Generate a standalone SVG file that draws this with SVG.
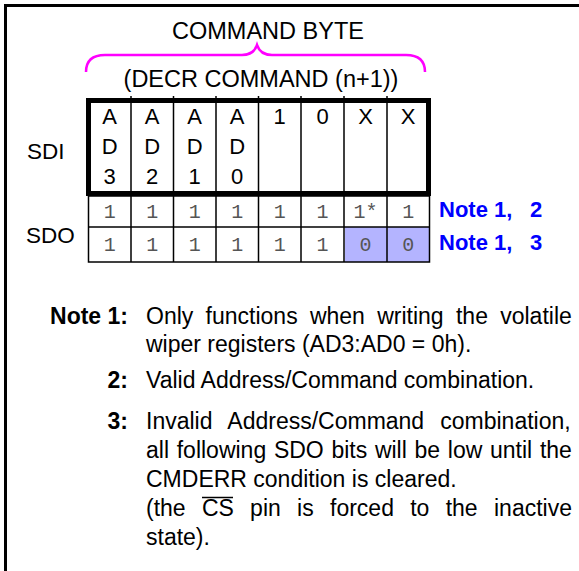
<svg xmlns="http://www.w3.org/2000/svg" width="579" height="571" viewBox="0 0 579 571">
<style>
text{font-family:"Liberation Sans",Arial,sans-serif;fill:#000}
.big{font-size:23.5px}
.lab{font-size:22.5px}
.cell{font-size:22px;text-anchor:middle}
.mono{font-family:"Liberation Mono","Courier New",monospace;font-size:20px;fill:#555;text-anchor:middle}
.blue{font-size:22px;font-weight:bold;fill:#0000ff}
.body{font-size:23px}
.bold{font-size:23px;font-weight:bold;text-anchor:end}
.thin{stroke:#000;stroke-width:1.5;fill:none}
</style>
<rect width="579" height="571" fill="#fff"/>
<g id="frame">
<path d="M5.5,571 V5.5 H579" fill="none" stroke="#000" stroke-width="3"/>
</g>
<g id="header">
<text class="big" x="268" y="39" text-anchor="middle">COMMAND BYTE</text>
<path d="M86,72 C86,61 92,55 105,55 L242,55 C251,55 255,51 257,45 C259,51 263,55 272,55 L406,55 C419,55 425,61 425,72" fill="none" stroke="#ff00ff" stroke-width="2.5"/>
<text class="big" x="261" y="87" text-anchor="middle">(DECR COMMAND (n+1))</text>
</g>
<g id="labels">
<text class="lab" x="27" y="159">SDI</text>
<text class="lab" x="26" y="243">SDO</text>
<text class="blue" x="439" y="217">Note 1, <tspan x="530">2</tspan></text>
<text class="blue" x="439" y="250">Note 1, <tspan x="530">3</tspan></text>
</g>
<g id="table">
<rect x="345" y="227" width="84.5" height="35" fill="#b4b4ff"/>
<g class="thin">
<path d="M131,96V262M173.5,96V262M216,96V262M258.5,96V262M301,96V262M344,96V262M387,96V262"/>
<rect x="88.5" y="196" width="341" height="66"/>
<path d="M88.5,227H429.5"/>
</g>
<rect x="88.5" y="100.5" width="340" height="93" fill="none" stroke="#000" stroke-width="5"/>
<g id="sdi">
<text class="cell" x="109.7" y="124">A</text><text class="cell" x="109.7" y="154">D</text><text class="cell" x="109.7" y="184">3</text>
<text class="cell" x="152.2" y="124">A</text><text class="cell" x="152.2" y="154">D</text><text class="cell" x="152.2" y="184">2</text>
<text class="cell" x="194.7" y="124">A</text><text class="cell" x="194.7" y="154">D</text><text class="cell" x="194.7" y="184">1</text>
<text class="cell" x="237.2" y="124">A</text><text class="cell" x="237.2" y="154">D</text><text class="cell" x="237.2" y="184">0</text>
<text class="cell" x="279.7" y="124">1</text>
<text class="cell" x="322.5" y="124">0</text>
<text class="cell" x="365.5" y="124">X</text>
<text class="cell" x="408.2" y="124">X</text>
</g>
<g id="sdo">
<text class="mono" x="109.7" y="218">1</text><text class="mono" x="152.2" y="218">1</text><text class="mono" x="194.7" y="218">1</text><text class="mono" x="237.2" y="218">1</text><text class="mono" x="279.7" y="218">1</text><text class="mono" x="322.5" y="218">1</text><text class="mono" x="365.5" y="218">1*</text><text class="mono" x="408.2" y="218">1</text>
<text class="mono" x="109.7" y="251">1</text><text class="mono" x="152.2" y="251">1</text><text class="mono" x="194.7" y="251">1</text><text class="mono" x="237.2" y="251">1</text><text class="mono" x="279.7" y="251">1</text><text class="mono" x="322.5" y="251">1</text><text class="mono" x="365.5" y="251">0</text><text class="mono" x="408.2" y="251">0</text>
</g>
</g>
<g id="notes">
<text class="bold" x="128" y="324">Note 1:</text>
<text class="body" x="146" y="324" style="word-spacing:5.9px">Only functions when writing the volatile</text>
<text class="body" x="146" y="352">wiper registers (AD3:AD0 = 0h).</text>
<text class="bold" x="128" y="388">2:</text>
<text class="body" x="146" y="388">Valid Address/Command combination.</text>
<text class="bold" x="128" y="429">3:</text>
<text class="body" x="146" y="429" style="word-spacing:9.7px">Invalid Address/Command combination,</text>
<text class="body" x="146" y="458" style="word-spacing:1.3px">all following SDO bits will be low until the</text>
<text class="body" x="146" y="487">CMDERR condition is cleared.</text>
<text class="body" y="516"><tspan x="146">(the</tspan><tspan x="201.9">CS</tspan><tspan x="250.1">pin</tspan><tspan x="297.1">is</tspan><tspan x="330">forced</tspan><tspan x="410.2">to</tspan><tspan x="445.7">the</tspan><tspan x="494">inactive</tspan></text>
<path d="M202,497.5H233" stroke="#000" stroke-width="1.5"/>
<text class="body" x="146" y="545">state).</text>
</g>
</svg>
